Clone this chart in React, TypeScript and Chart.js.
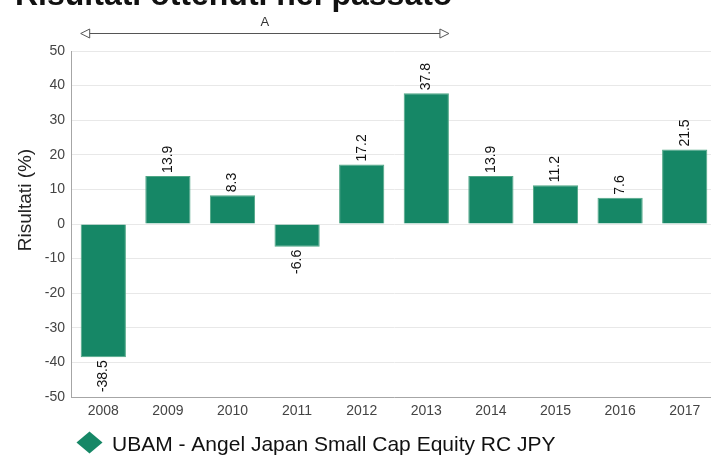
import { useEffect, useRef } from "react";
import { Chart, registerables, type ChartConfiguration, type Plugin } from "chart.js";

Chart.register(...registerables);

const YEARS = ["2008", "2009", "2010", "2011", "2012", "2013", "2014", "2015", "2016", "2017"];
const RETURNS = [-38.5, 13.9, 8.3, -6.6, 17.2, 37.8, 13.9, 11.2, 7.6, 21.5];
const SERIES_NAME = "UBAM - Angel Japan Small Cap Equity RC JPY";
const TITLE = "Risultati ottenuti nel passato";
const Y_TITLE = "Risultati (%)";
// period marker "A" spans first to sixth year
const PERIOD_LABEL = "A";
const PERIOD_FROM = 0;
const PERIOD_TO = 5;

const GREEN = "#168766";
const FONT_FAMILY = "'Liberation Sans', Arial, sans-serif";

// title, y title, value labels, period arrow, legend
const extras: Plugin<"bar"> = {
  id: "extras",
  afterDraw(chart) {
    const { ctx, chartArea } = chart;
    const x = chart.scales.x;
    const meta = chart.getDatasetMeta(0);
    ctx.save();

    // title (partly above the visible frame)
    ctx.fillStyle = "#111";
    ctx.font = `bold 32px ${FONT_FAMILY}`;
    ctx.textAlign = "left";
    ctx.textBaseline = "alphabetic";
    ctx.fillText(TITLE, 15, 5);

    // y axis title
    ctx.save();
    ctx.translate(31, 200);
    ctx.rotate(-Math.PI / 2);
    ctx.font = `19px ${FONT_FAMILY}`;
    ctx.fillStyle = "#222";
    ctx.textAlign = "center";
    ctx.textBaseline = "alphabetic";
    ctx.fillText(Y_TITLE, 0, 0);
    ctx.restore();

    // value labels, rotated
    ctx.font = `14px ${FONT_FAMILY}`;
    ctx.fillStyle = "#111";
    meta.data.forEach((el: any, i) => {
      const v = RETURNS[i];
      ctx.save();
      ctx.textBaseline = "middle";
      if (v >= 0) {
        ctx.translate(el.x, el.y - 3);
        ctx.rotate(-Math.PI / 2);
        ctx.textAlign = "left";
      } else {
        ctx.translate(el.x, el.y + 3);
        ctx.rotate(-Math.PI / 2);
        ctx.textAlign = "right";
      }
      ctx.fillText(v.toFixed(1), 0, 0);
      ctx.restore();
    });

    // period arrow
    const bw = (meta.data[0] as any).width;
    const x1 = x.getPixelForValue(PERIOD_FROM) - bw / 2;
    const x2 = x.getPixelForValue(PERIOD_TO) + bw / 2;
    const ay = 33;
    ctx.strokeStyle = "#555";
    ctx.lineWidth = 1;
    ctx.beginPath();
    ctx.moveTo(x1 + 8, ay + 0.5);
    ctx.lineTo(x2 - 8, ay + 0.5);
    ctx.stroke();
    const head = (tip: number, dir: number) => {
      ctx.beginPath();
      ctx.moveTo(tip, ay + 0.5);
      ctx.lineTo(tip + dir * 9, ay - 4);
      ctx.lineTo(tip + dir * 9, ay + 5);
      ctx.closePath();
      ctx.fillStyle = "#fff";
      ctx.fill();
      ctx.stroke();
    };
    head(x1, 1);
    head(x2, -1);
    ctx.fillStyle = "#333";
    ctx.font = `13px ${FONT_FAMILY}`;
    ctx.textAlign = "center";
    ctx.textBaseline = "middle";
    ctx.fillText(PERIOD_LABEL, (x1 + x2) / 2, 22);

    // legend
    const lx = 89.5;
    const ly = 442.5;
    ctx.fillStyle = GREEN;
    ctx.beginPath();
    ctx.moveTo(lx, ly - 11);
    ctx.lineTo(lx + 13, ly);
    ctx.lineTo(lx, ly + 11);
    ctx.lineTo(lx - 13, ly);
    ctx.closePath();
    ctx.fill();
    ctx.fillStyle = "#111";
    ctx.font = `21px ${FONT_FAMILY}`;
    ctx.textAlign = "left";
    ctx.textBaseline = "alphabetic";
    ctx.fillText(SERIES_NAME, 112, 451);

    ctx.restore();
    void chartArea;
  },
};

export default function App() {
  const canvasRef = useRef<HTMLCanvasElement>(null);
  const chartRef = useRef<Chart | null>(null);

  useEffect(() => {
    if (!canvasRef.current) return;
    chartRef.current?.destroy();

    const cfg: ChartConfiguration<"bar"> = {
      type: "bar",
      data: {
        labels: YEARS,
        datasets: [
          {
            label: SERIES_NAME,
            data: RETURNS,
            backgroundColor: GREEN,
            borderColor: "#4fa685",
            borderWidth: 1,
            barPercentage: 0.7,
            categoryPercentage: 1,
          },
        ],
      },
      options: {
        responsive: false,
        animation: false,
        layout: { padding: { top: 51, bottom: 35, left: 0, right: 0 } },
        plugins: {
          legend: { display: false },
          tooltip: { enabled: false },
        },
        scales: {
          x: {
            grid: { display: false, drawTicks: false },
            border: { display: true, color: "#a6a6a6" },
            ticks: { color: "#444", font: { size: 14, family: FONT_FAMILY }, padding: 6, maxRotation: 0 },
            afterFit: (s) => {
              s.height = 24;
            },
          },
          y: {
            min: -50,
            max: 50,
            grid: { color: "#e8e8e8", drawTicks: false },
            border: { display: true, color: "#a6a6a6" },
            ticks: { stepSize: 10, color: "#444", font: { size: 14, family: FONT_FAMILY }, padding: 6 },
            afterFit: (s) => {
              s.width = 71;
            },
          },
        },
      },
      plugins: [extras],
    };

    chartRef.current = new Chart(canvasRef.current, cfg);
    return () => {
      chartRef.current?.destroy();
    };
  }, []);

  return (
    <div style={{ position: "fixed", left: 0, top: 0, width: 711, height: 456, overflow: "hidden", background: "#fff" }}>
      <canvas ref={canvasRef} width={717} height={456} />
    </div>
  );
}
